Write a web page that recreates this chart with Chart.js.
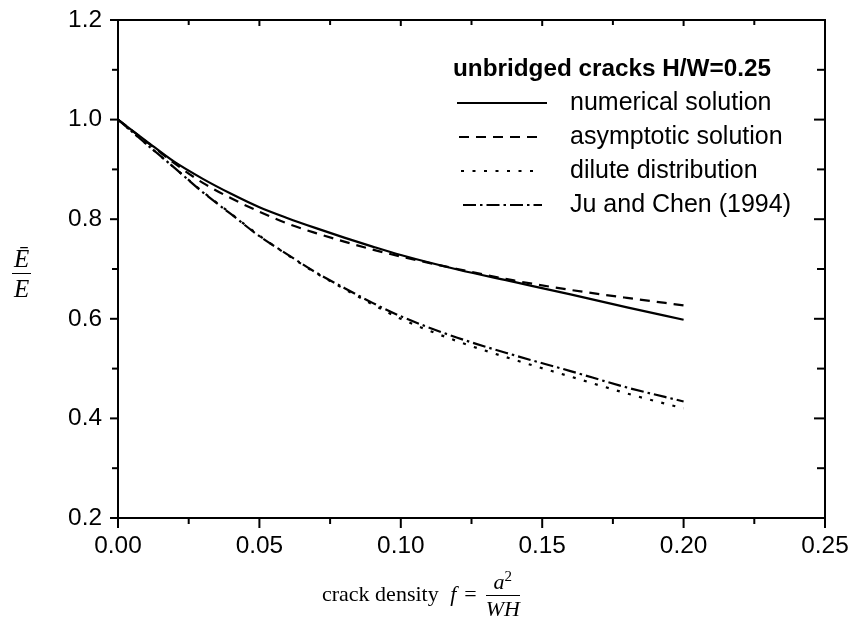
<!DOCTYPE html>
<html><head><meta charset="utf-8">
<script src="https://cdn.jsdelivr.net/npm/chart.js@4/dist/chart.umd.min.js"></script>
<style>
html,body{margin:0;padding:0;background:#fff;}
#wrap{position:relative;width:853px;height:622px;overflow:hidden;}
#c{position:absolute;left:0;top:0;}
.lbl{position:absolute;font-family:"Liberation Serif","DejaVu Serif",serif;color:#000;white-space:nowrap;line-height:1;}
.frac{display:inline-block;text-align:center;vertical-align:middle;}
.frac .num{display:block;border-bottom:1.4px solid #000;padding:0 2px 2px 2px;}
.frac .den{display:block;padding-top:2px;}
</style></head><body>
<div id="wrap">
<canvas id="c" width="853" height="622"></canvas>
<div class="lbl" id="ylab" style="left:12px;top:246px;font-size:25px;font-style:italic;">
  <span class="frac"><span class="num">Ē</span><span class="den">E</span></span>
</div>
<div class="lbl" id="xlab" style="left:322px;top:571px;font-size:22px;">
  crack density <i style="margin-left:6px;">f</i><span style="margin:0 9px 0 8px;">=</span><span class="frac" style="font-size:22px;font-style:italic;"><span class="num">a<sup style="font-size:15px;font-style:normal;line-height:0;">2</sup></span><span class="den">WH</span></span>
</div>
</div>
<script>
// crack density values (x)
const crackDensity = [0, 0.01, 0.02, 0.03, 0.04, 0.05, 0.06, 0.07, 0.08, 0.09, 0.10, 0.12, 0.14, 0.16, 0.18, 0.20];
// normalized modulus
const numericalSolution = [1.000, 0.957, 0.915, 0.881, 0.851, 0.824, 0.802, 0.782, 0.763, 0.745, 0.728, 0.699, 0.674, 0.649, 0.623, 0.598];
const asymptoticSolution = [1.000, 0.956, 0.912, 0.873, 0.842, 0.815, 0.791, 0.772, 0.755, 0.739, 0.725, 0.700, 0.677, 0.658, 0.642, 0.627];
const diluteDistribution = [1.000, 0.951, 0.903, 0.855, 0.811, 0.767, 0.728, 0.692, 0.660, 0.629, 0.600, 0.555, 0.518, 0.484, 0.450, 0.420];
const juAndChen = [1.000, 0.951, 0.903, 0.854, 0.810, 0.766, 0.729, 0.693, 0.662, 0.632, 0.605, 0.562, 0.527, 0.495, 0.462, 0.434];

const seriesLabels = ['numerical solution', 'asymptotic solution', 'dilute distribution', 'Ju and Chen (1994)'];
const legendTitle = 'unbridged cracks H/W=0.25';

// axis ticks
const xMajorTicks = [0, 0.05, 0.10, 0.15, 0.20, 0.25];
const xMinorTicks = [0.025, 0.075, 0.125, 0.175, 0.225];
const yMajorTicks = [0.2, 0.4, 0.6, 0.8, 1.0, 1.2];
const yMinorTicks = [0.3, 0.5, 0.7, 0.9, 1.1];

const dashes = [[], [10, 7], [3, 8.5], [13, 4, 2.5, 4]];
const seriesData = [numericalSolution, asymptoticSolution, diluteDistribution, juAndChen];

const datasets = seriesData.map((vals, i) => ({
  label: seriesLabels[i],
  data: crackDensity.map((f, j) => ({x: f, y: vals[j]})),
  borderColor: '#000',
  borderWidth: 2.2,
  borderDash: dashes[i],
  pointRadius: 0,
  fill: false,
  cubicInterpolationMode: 'monotone'
}));

const framePlugin = {
  id: 'frameTicks',
  afterDraw(chart) {
    const ctx = chart.ctx;
    const {left, right, top, bottom} = chart.chartArea;
    const x = chart.scales.x, y = chart.scales.y;
    ctx.save();
    ctx.strokeStyle = '#000';
    ctx.lineWidth = 2;
    ctx.lineCap = 'butt';
    ctx.strokeRect(left, top, right - left, bottom - top);
    const line = (x1, y1, x2, y2) => { ctx.beginPath(); ctx.moveTo(x1, y1); ctx.lineTo(x2, y2); ctx.stroke(); };
    xMajorTicks.forEach(v => { const p = x.getPixelForValue(v); line(p, bottom, p, bottom + 10); line(p, top, p, top + 6); });
    xMinorTicks.forEach(v => { const p = x.getPixelForValue(v); line(p, bottom, p, bottom + 6); line(p, top, p, top + 5); });
    yMajorTicks.forEach(v => { const p = y.getPixelForValue(v); line(left - 8, p, left, p); line(right, p, right - 11, p); });
    yMinorTicks.forEach(v => { const p = y.getPixelForValue(v); line(left - 6, p, left, p); line(right, p, right - 8, p); });

    // legend
    ctx.fillStyle = '#000';
    ctx.textBaseline = 'middle';
    ctx.textAlign = 'left';
    ctx.font = 'bold 24.3px "Liberation Sans", Arial, sans-serif';
    ctx.fillText(legendTitle, 453, 69);
    ctx.font = '25px "Liberation Sans", Arial, sans-serif';
    const rows = [103, 137, 171, 205];
    const sampleStart = [457, 459, 461, 463];
    const sampleEnd = [547, 538, 540, 542];
    chart.data.datasets.forEach((ds, i) => {
      ctx.save();
      ctx.lineWidth = 2.2;
      ctx.setLineDash(ds.borderDash);
      line(sampleStart[i], rows[i], sampleEnd[i], rows[i]);
      ctx.restore();
      ctx.fillText(ds.label, 570, rows[i]);
    });
    ctx.restore();
  }
};

function zeroPad(s) { s.paddingTop = 0; s.paddingBottom = 0; s.paddingLeft = 0; s.paddingRight = 0; }

new Chart(document.getElementById('c'), {
  type: 'line',
  data: {datasets},
  options: {
    responsive: false,
    animation: false,
    devicePixelRatio: 1,
    layout: {padding: {top: 20, right: 28, left: 0, bottom: 0}},
    plugins: {legend: {display: false}, tooltip: {enabled: false}},
    scales: {
      x: {
        type: 'linear', min: 0, max: 0.25,
        afterFit(s) { s.height = 104; zeroPad(s); },
        afterBuildTicks(s) { s.ticks = xMajorTicks.map(v => ({value: v})); },
        grid: {display: false, drawTicks: false},
        border: {display: false},
        ticks: {
          color: '#000', padding: 14, maxRotation: 0, autoSkip: false,
          font: {family: '"Liberation Sans", Arial, sans-serif', size: 24.4},
          callback: v => Number(v).toFixed(2)
        }
      },
      y: {
        type: 'linear', min: 0.2, max: 1.2,
        afterFit(s) { s.width = 118; zeroPad(s); },
        afterBuildTicks(s) { s.ticks = yMajorTicks.map(v => ({value: v})); },
        grid: {display: false, drawTicks: false},
        border: {display: false},
        ticks: {
          color: '#000', padding: 16,
          font: {family: '"Liberation Sans", Arial, sans-serif', size: 24.4},
          callback: v => Number(v).toFixed(1)
        }
      }
    }
  },
  plugins: [framePlugin]
});
</script>
</body></html>
